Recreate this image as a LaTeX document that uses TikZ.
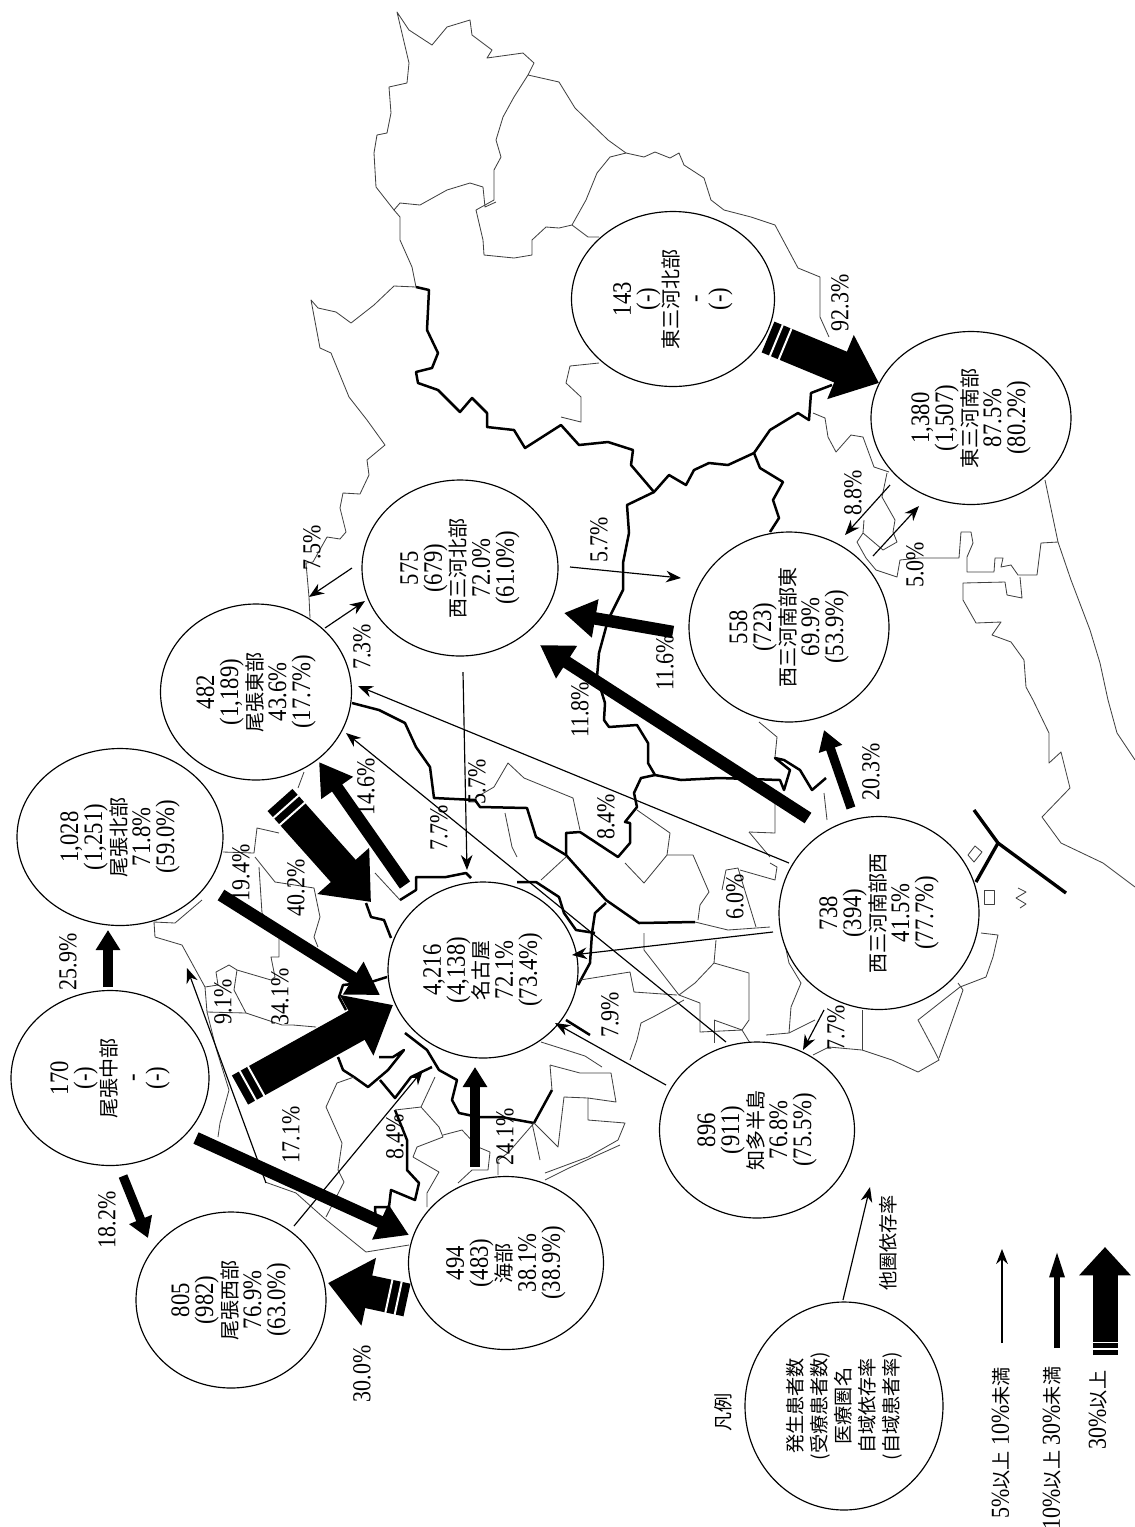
\documentclass[tikz,border=0pt]{standalone}
\usepackage{fontspec}
\setmainfont[FakeStretch=0.85]{Liberation Serif}
\newfontfamily\cjk{Noto Sans CJK JP}
\usetikzlibrary{shapes.geometric,arrows.meta}
\tikzset{
  mapthin/.style={draw=black!75,line width=0.5pt,line join=round},
  mapthick/.style={draw=black,line width=1.5pt,line join=round},
  regbox/.style 2 args={ellipse,draw,fill=white,rotate=90,line width=0.7pt,inner sep=0pt,align=center,
    minimum height=#1*0.6pt,minimum width=#2*0.6pt,font=\fontsize{16}{14.4}\selectfont},
  pctlabel/.style={rotate=90,inner sep=0pt,font=\fontsize{15.5}{14}\selectfont},
  thinflow/.style={line width=0.7pt,-{Stealth[length=9pt,width=7pt]}},
  smallflow/.style={line width=5.5pt,-{Triangle[length=12pt,width=14pt]}},
  midflow/.style={line width=7.5pt,-{Triangle[length=19pt,width=22pt]}},
  bigflow/.style={line width=20pt,-{Triangle[length=25pt,width=40pt]}},
  bigstripe/.style={white,line width=20.5pt,dash pattern=on 0pt off 4.8pt on 1.2pt off 4.5pt on 1.2pt off 2000pt},
}
\begin{document}
\begin{tikzpicture}[x=0.6pt,y=-0.6pt]
        \useasboundingbox (0,0) rectangle (1135,1527);
        % north and west outline
        \draw[mapthin] (394,210)--(376,187)--(374,153)--(377,135)--(387,133)--(391,113)--(389,87)--(407,83)--(409,63)--(397,12)--(409,30)--(432,45)--(447,27)--(470,20)--(472,35)--(492,50)--(487,58)--(523,53)--(534,63)--(528,75)--(559,82)--(575,108)--(608,140)--(626,153)--(644,157)--(655,152)--(670,158)--(679,153)--(684,165)--(704,178)--(711,200)--(724,210)--(751,217)--(775,225)--(798,268)--(820,277)--(820,317)--(829,337);
        \draw[mapthin] (394,210)--(400,203)--(420,205)--(447,190)--(470,183)--(483,187)--(485,207)--(496,202);
        \draw[mapthin] (528,75)--(514,97)--(503,117)--(496,140)--(501,157)--(494,170)--(494,200)--(476,210)--(483,240)--(484,255)--(514,258)--(532,255)--(532,240)--(546,227)--(559,228)--(572,225)--(586,200)--(597,173)--(610,157)--(626,153);
        \draw[mapthin] (572,225)--(588,237)--(599,237);
        \draw[mapthin] (394,210)--(400,217)--(400,240)--(412,267)--(416,287);
        \draw[mapthin] (416,287)--(394,286)--(374,305)--(351,323)--(336,312)--(318,308)--(311,300)--(320,348)--(331,353)--(340,375)--(349,397)--(367,420)--(385,445)--(367,460)--(369,475)--(360,494)--(343,493)--(340,508)--(346,532)--(340,539)--(327,537)--(313,562)--(306,563)--(309,597)--(310,618);
        \draw[mapthin] (599,363)--(570,366)--(566,383)--(581,397)--(581,422)--(561,417);
        % east side and coast
        \draw[mapthin] (813,413)--(825,418)--(828,437)--(836,452)--(851,435)--(863,437)--(874,467)--(889,472);
        \draw[mapthin] (887,473)--(882,497)--(895,520)--(893,532)--(897,542)--(883,550)--(863,533)--(864,520);
        \draw[mapthin] (863,533)--(857,542)--(866,558)--(876,570)--(897,577)--(900,560)--(919,558)--(959,558)--(961,532)--(971,532)--(973,543)--(967,557)--(967,572)--(994,572)--(995,558)--(1003,558)--(1001,567)--(1011,565)--(1018,575)--(1037,575)--(1041,543)--(1058,542);
        \draw[mapthin] (1045,480)--(1058,542)--(1071,580)--(1090,630)--(1100,663)--(1108,700)--(1117,733)--(1135,760);
        \draw[mapthin] (1020,577)--(1022,598)--(1007,595)--(1005,582)--(963,583)--(963,600)--(976,623)--(1001,622)--(992,635)--(1011,642)--(1024,660)--(1026,687)--(1033,700)--(1049,733)--(1049,763)--(1061,752)--(1070,788)--(1042,817)--(1061,843)--(1103,863)--(1135,887);
        \draw[mapthin] (981,933)--(998,935)--(993,957)--(986,977)--(960,987)--(918,1020)--(934,1050)--(939,1060)--(918,1072)--(892,1060)--(862,1050)--(829,1047)--(813,1055);
        \draw[mapthin] (958,983)--(963,990)--(939,1058);
        \draw[mapthin] (862,1010)--(862,1050);
        \draw[mapthin] (968,855)--(975,846)--(982,852)--(974,862)--cycle;
        \draw[mapthin] (984,890)--(994,890)--(994,904)--(984,904)--cycle;
        \draw[mapthin] (1018,888)--(1026,892)--(1016,898)--(1026,904)--(1020,908);
        % thick borders
        \draw[mapthick] (416,287)--(429,290)--(427,330)--(438,353)--(432,368)--(416,372)--(418,383)--(438,390)--(460,412)--(472,398)--(487,413)--(487,427)--(514,430)--(525,448)--(561,425)--(579,445)--(608,442)--(633,450)--(631,465)--(654,492)--(669,475)--(686,485)--(694,470)--(709,463)--(728,465)--(754,453)--(770,430)--(798,413)--(809,420)--(811,393)--(832,385);
        \draw[mapthick] (754,453)--(760,468)--(783,482)--(773,500)--(779,518)--(770,532);
        \draw[mapthick] (654,492)--(627,505)--(629,533)--(623,563)--(623,590)--(608,620)--(599,653)--(597,677)--(605,703)--(604,720)--(609,727)--(637,725)--(648,743)--(648,763)--(655,775)--(681,780)--(719,778)--(780,780)--(784,790)--(790,770)--(775,758)--(784,760)--(800,770)--(812,790)--(826,778);
        \draw[mapthick] (655,775)--(641,778)--(634,793)--(637,807)--(625,822)--(630,823)--(630,843)--(618,857)--(580,832)--(566,833)--(566,855);
        \draw[mapthick] (352,703)--(379,710)--(405,723)--(416,747)--(430,767)--(434,798)--(475,800)--(480,807)--(527,808)--(536,837)--(566,855)--(606,900)--(639,923)--(695,922);
        \draw[mapthick] (606,903)--(595,913)--(592,933)--(590,963)--(578,985);
        \draw[mapthick] (517,882)--(536,882)--(559,897)--(564,913)--(576,930)--(595,933);
        \draw[mapthick] (400,900)--(416,890)--(416,877)--(446,877)--(466,873)--(471,878);
        \draw[mapthick] (366,903)--(371,917)--(384,920)--(391,938);
        \draw[mapthick] (387,977)--(371,982)--(343,985)--(339,997)--(346,1010);
        \draw[mapthick] (338,1057)--(343,1070)--(354,1077)--(368,1087)--(388,1070)--(404,1050)--(393,1057)--(379,1057);
        \draw[mapthick] (380,1080)--(395,1098)--(411,1077)--(432,1067);
        \draw[mapthick] (405,1033)--(427,1050)--(439,1070)--(457,1080)--(452,1100)--(459,1113)--(478,1117)--(501,1117)--(534,1123)--(552,1090);
        \draw[mapthick] (395,1110)--(407,1140)--(407,1170)--(419,1183)--(415,1200)--(391,1190)--(389,1207)--(375,1207)--(376,1225);
        \draw[mapthick] (566,1020)--(590,1035);
        \draw[line width=2pt] (974,810)--(998,843)--(1066,893);
        \draw[line width=2pt] (998,843)--(976,882);
        % municipal lines east of the city
        \draw[mapthin] (695,922)--(728,930)--(770,927);
        \draw[mapthin] (475,798)--(494,787)--(508,763)--(524,778)--(573,798)--(580,830);
        \draw[mapthin] (505,813)--(512,847)--(517,857);
        \draw[mapthin] (566,857)--(541,880);
        \draw[mapthin] (637,810)--(670,833)--(667,855)--(644,883)--(625,863);
        \draw[mapthin] (667,855)--(693,855)--(709,892)--(700,905)--(698,920);
        \draw[mapthin] (726,870)--(738,868)--(756,927);
        \draw[mapthin] (726,870)--(722,890);
        \draw[mapthin] (770,863)--(777,867)--(775,880)--(740,870);
        \draw[mapthin] (749,832)--(775,833)--(775,803);
        \draw[mapthin] (749,832)--(770,857);
        \draw[mapthin] (759,722)--(777,737)--(775,757);
        \draw[mapthin] (827,820)--(824,793);
        \draw[mapthin] (644,933)--(644,950)--(679,995)--(700,1003)--(700,1032)--(742,1030)--(749,1020)--(749,973)--(714,963)--(716,940);
        \draw[mapthin] (714,963)--(695,983)--(679,995);
        \draw[mapthin] (580,980)--(630,972)--(634,992)--(677,995);
        \draw[mapthin] (684,1000)--(653,1017)--(641,1023)--(637,1040)--(630,1060);
        \draw[mapthin] (714,1020)--(714,1043);
        \draw[mapthin] (714,1020)--(742,1030)--(750,1043);
        \draw[mapthin] (766,1035)--(789,1033)--(815,1020);
        \draw[mapthin] (784,940)--(789,963)--(801,983)--(791,1007)--(789,1033);
        % south of the city
        \draw[mapthin] (541,1042)--(560,1048)--(585,1056)--(602,1067);
        \draw[mapthin] (550,1065)--(580,1073)--(611,1073)--(616,1102)--(588,1098)--(588,1120)--(625,1123)--(618,1140)--(588,1157)--(545,1173);
        \draw[mapthin] (550,1065)--(552,1090);
        \draw[mapthin] (534,1123)--(558,1147)--(564,1097)--(588,1098);
        \draw[mapthin] (534,1123)--(508,1153)--(498,1160)--(498,1175);
        \draw[mapthin] (532,1123)--(540,1160);
        \draw[mapthin] (545,1180)--(569,1168)--(620,1145);
        % west of the city
        \draw[mapthin] (223,852)--(254,853)--(257,828)--(279,833);
        \draw[mapthin] (255,857)--(275,882)--(314,888)--(320,917)--(314,937)--(318,947);
        \draw[mapthin] (259,867)--(262,913)--(279,935)--(279,957)--(271,957)--(275,977)--(271,980)--(237,970)--(229,965)--(216,972)--(218,985)--(205,987);
        \draw[mapthin] (237,970)--(234,990)--(246,1013)--(282,1025)--(293,1025)--(316,1027);
        \draw[mapthin] (246,1013)--(207,1012)--(205,987)--(182,945)--(155,937)--(154,922);
        \draw[mapthin] (154,922)--(175,923)--(202,900);
        \draw[mapthin] (207,1012)--(216,1048)--(229,1090)--(220,1123)--(218,1137);
        \draw[mapthin] (326,1107)--(342,1143)--(338,1170)--(344,1182)--(326,1217);
        \draw[mapthin] (326,1107)--(337,1083)--(354,1077);
        \draw[mapthin] (265,1182)--(296,1193)--(324,1218)--(366,1252)--(409,1245);
        \draw[mapthin] (304,772)--(298,788);
        \draw[mapthin] (375,873)--(400,900);
        \draw[mapthin] (395,1110)--(421,1107)--(439,1127)--(443,1137)--(417,1147)--(413,1157)--(439,1172)--(427,1193)--(427,1207);
        \draw[mapthin] (421,1107)--(435,1077);
        \draw[mapthin] (443,1135)--(462,1130)--(478,1147)--(490,1152)--(488,1170)--(472,1170)--(458,1183);
        % regions
        \node[regbox={206}{177}](owariN) at (120,837) {1,028\\(1,251)\\{\cjk\fontsize{12}{14}\selectfont 尾張北部}\\71.8\%\\(59.0\%)};
        \node[regbox={198}{175}](owariC) at (110,1078) {170\\(-)\\{\cjk\fontsize{12}{14}\selectfont 尾張中部}\\-\\(-)};
        \node[regbox={191}{176}](owariE) at (256,692) {482\\(1,189)\\{\cjk\fontsize{12}{14}\selectfont 尾張東部}\\43.6\%\\(17.7\%)};
        \node[regbox={190}{176}](owariW) at (231,1300) {805\\(982)\\{\cjk\fontsize{12}{14}\selectfont 尾張西部}\\76.9\%\\(63.0\%)};
        \node[regbox={190}{176}](naga) at (483,970) {4,216\\(4,138)\\{\cjk\fontsize{12}{14}\selectfont 名古屋}\\72.1\%\\(73.4\%)};
        \node[regbox={195}{173}](ama) at (506,1263) {494\\(483)\\{\cjk\fontsize{12}{14}\selectfont 海部}\\38.1\%\\(38.9\%)};
        \node[regbox={195}{176}](chita) at (757,1130) {896\\(911)\\{\cjk\fontsize{12}{14}\selectfont 知多半島}\\76.8\%\\(75.5\%)};
        \node[regbox={200}{193}](nishiSW) at (879,913) {738\\(394)\\{\cjk\fontsize{12}{14}\selectfont 西三河南部西}\\41.5\%\\(77.7\%)};
        \node[regbox={200}{190}](nishiSE) at (789,627) {558\\(723)\\{\cjk\fontsize{12}{14}\selectfont 西三河南部東}\\69.9\%\\(53.9\%)};
        \node[regbox={196}{176}](nishiN) at (460,568) {575\\(679)\\{\cjk\fontsize{12}{14}\selectfont 西三河北部}\\72.0\%\\(61.0\%)};
        \node[regbox={200}{173}](higashiS) at (971,418) {1,380\\(1,507)\\{\cjk\fontsize{12}{14}\selectfont 東三河南部}\\87.5\%\\(80.2\%)};
        \node[regbox={203}{175}](higashiN) at (673,299) {143\\(-)\\{\cjk\fontsize{12}{14}\selectfont 東三河北部}\\-\\(-)};
        \node[regbox={198}{208}](legend) at (844,1406) {{\cjk\fontsize{11.5}{15}\selectfont 発生患者数}\\{\cjk\fontsize{11.5}{15}\selectfont (受療患者数)}\\{\cjk\fontsize{11.5}{15}\selectfont 医療圏名}\\{\cjk\fontsize{11.5}{15}\selectfont 自域依存率}\\{\cjk\fontsize{11.5}{15}\selectfont (自域患者率)}};
        % flows
        \coordinate(ocnT) at (240,1090); \coordinate(ocnH) at (393,1005);
        \coordinate(oenT) at (280,800); \coordinate(oenH) at (371,902);
        \coordinate(aowT) at (407,1300); \coordinate(aowH) at (328,1283);
        \coordinate(hnhT) at (768,337); \coordinate(hnhH) at (879,383);
        \coordinate(lgbT) at (1105,1355); \coordinate(lgbH) at (1105,1247);
        \foreach \a/\b in {ocnT/ocnH,oenT/oenH,aowT/aowH,hnhT/hnhH}{
          \draw[bigflow](\a)--(\b);
          \draw[bigstripe](\a)--(\b);
        }
        \draw[bigflow,line width=15pt,-{Triangle[length=17pt,width=30pt]}](lgbT)--(lgbH);
        \draw[bigstripe,line width=15.5pt,dash pattern=on 0pt off 3pt on 1pt off 3pt on 1pt off 2000pt](lgbT)--(lgbH);
        \coordinate(ocnsT) at (108,987); \coordinate(ocnsH) at (108,930);
        \coordinate(ocwT) at (123,1176); \coordinate(ocwH) at (148,1238);
        \coordinate(amnT) at (475,1167); \coordinate(amnH) at (475,1067);
        \coordinate(swseT) at (851,808); \coordinate(swseH) at (824,730);
        \foreach \a/\b in {ocnsT/ocnsH,ocwT/ocwH,amnT/amnH,swseT/swseH}
          \draw[smallflow](\a)--(\b);
        \coordinate(ocaT) at (196,1138); \coordinate(ocaH) at (409,1235);
        \coordinate(onnT) at (221,895); \coordinate(onnH) at (380,995);
        \coordinate(noeT) at (405,885); \coordinate(noeH) at (319,762);
        \coordinate(senT) at (673,632); \coordinate(senH) at (564,613);
        \coordinate(swnT) at (808,818); \coordinate(swnH) at (540,645);
        \foreach \a/\b in {ocaT/ocaH,onnT/onnH,noeT/noeH,senT/senH,swnT/swnH}
          \draw[midflow](\a)--(\b);
        \coordinate(owoT) at (266,1183); \coordinate(owoH) at (187,968);
        \coordinate(ownT) at (294,1226); \coordinate(ownH) at (423,1070);
        \coordinate(choT) at (726,1042); \coordinate(choH) at (346,733);
        \coordinate(swoT) at (789,863); \coordinate(swoH) at (358,686);
        \coordinate(nnT) at (463,672); \coordinate(nnH) at (467,870);
        \coordinate(swgT) at (773,932); \coordinate(swgH) at (572,955);
        \coordinate(chnT) at (666,1085); \coordinate(chnH) at (555,1023);
        \coordinate(swcT) at (824,1010); \coordinate(swcH) at (803,1050);
        \coordinate(nseT) at (570,567); \coordinate(nseH) at (681,578);
        \coordinate(noT) at (352,568); \coordinate(noH) at (309,597);
        \coordinate(onT) at (325,628); \coordinate(onH) at (365,601);
        \coordinate(shT) at (873,556); \coordinate(shH) at (919,506);
        \coordinate(hsT) at (890,485); \coordinate(hsH) at (845,535);
        \coordinate(lgaT) at (843,1300); \coordinate(lgaH) at (870,1187);
        \coordinate(lgcT) at (1002,1343); \coordinate(lgcH) at (1002,1249);
        \foreach \a/\b in {owoT/owoH,ownT/ownH,choT/choH,swoT/swoH,nnT/nnH,swgT/swgH,chnT/chnH,swcT/swcH,nseT/nseH,noT/noH,onT/onH,shT/shH,hsT/hsH,lgaT/lgaH,lgcT/lgcH}
          \draw[thinflow](\a)--(\b);
        \coordinate(lgmT) at (1057,1348); \coordinate(lgmH) at (1057,1249);
        \draw[line width=4pt,-{Triangle[length=17pt,width=8pt]}](lgmT)--(lgmH);
        % percentages
        \foreach \x/\y/\t [count=\i] in {68/962/25.9,107/1220/18.2,362/1374/30.0,291/1135/17.1,223/1002/9.1,280/997/34.1,241/873/19.4,296/888/40.2,366/787/14.6,395/1137/8.4,505/1137/24.1,439/828/7.7,477/782/5.7,606/817/8.4,735/897/6.0,610/1015/7.9,836/1028/7.7,871/772/20.3,580/710/11.8,665/663/11.6,599/540/5.7,312/548/7.5,362/647/7.3,840/303/92.3,853/493/8.8,915/565/5.0}
          \node[pctlabel](pct\i) at (\x,\y) {\t\%};
        % legend texts
        \node[pctlabel,font=\cjk\fontsize{11.5}{14}\selectfont](lgtitle) at (723,1412) {凡例};
        \node[pctlabel,font=\cjk\fontsize{11.5}{14}\selectfont](lgother) at (888,1243) {他圏依存率};
        \node[pctlabel](lgthin) at (1001,1443) {5\%{\cjk\fontsize{11.5}{14}\selectfont 以上} 10\%{\cjk\fontsize{11.5}{14}\selectfont 未満}};
        \node[pctlabel](lgmid) at (1052,1448) {10\%{\cjk\fontsize{11.5}{14}\selectfont 以上} 30\%{\cjk\fontsize{11.5}{14}\selectfont 未満}};
        \node[pctlabel](lgbig) at (1098,1410) {30\%{\cjk\fontsize{11.5}{14}\selectfont 以上}};
\end{tikzpicture}
\end{document}
